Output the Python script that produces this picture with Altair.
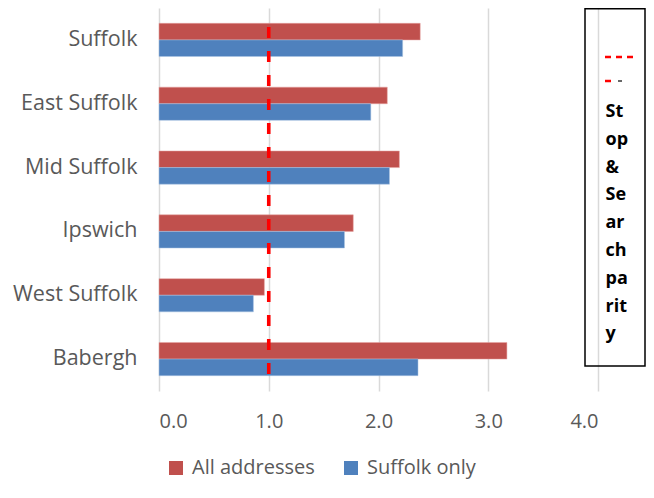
import altair as alt
import pandas as pd

categories = ["Suffolk", "East Suffolk", "Mid Suffolk", "Ipswich", "West Suffolk", "Babergh"]
all_addresses = [2.38, 2.08, 2.19, 1.77, 0.96, 3.17]
suffolk_only = [2.22, 1.93, 2.10, 1.69, 0.86, 2.36]
series_names = ["All addresses", "Suffolk only"]
series_colors = ["#C0504D", "#4F81BD"]
parity_value = [1.0]
x_ticks = [0, 1, 2, 3, 4]
box_lines = ["St", "op", "&", "Se", "ar", "ch", "pa", "rit", "y"]

rows = []
for c, a, s in zip(categories, all_addresses, suffolk_only):
    rows.append({"area": c, "series": series_names[0], "value": a})
    rows.append({"area": c, "series": series_names[1], "value": s})
df = pd.DataFrame(rows)

FONT = "Open Sans"
GREY = "#595959"

x_scale = alt.Scale(domain=[0, 4], nice=False)

bars = alt.Chart(df).mark_bar(strokeWidth=1, strokeOpacity=0.5).encode(
    x=alt.X("value:Q", scale=x_scale,
            axis=alt.Axis(values=x_ticks, format=".1f", title=None, grid=True,
                          gridColor="#d9d9d9", gridWidth=1.5, domain=False, ticks=False,
                          labelFont=FONT, labelFontSize=20, labelColor=GREY,
                          labelPadding=20)),
    y=alt.Y("area:N", sort=categories,
            scale=alt.Scale(paddingInner=0.48, paddingOuter=0.24),
            axis=alt.Axis(title=None, domain=False, ticks=False, grid=False,
                          labelFont=FONT, labelFontSize=21.5, labelColor=GREY,
                          labelPadding=22)),
    yOffset=alt.YOffset("series:N", sort=series_names),
    color=alt.Color("series:N", sort=series_names,
                    scale=alt.Scale(domain=series_names, range=series_colors),
                    legend=alt.Legend(title=None, orient="none", direction="horizontal",
                                      legendX=7, legendY=450, padding=0,
                                      symbolType="square", symbolSize=196,
                                      symbolStrokeWidth=0, labelOffset=6,
                                      columnPadding=26, labelFont=FONT,
                                      labelFontSize=20, labelColor=GREY)),
    stroke=alt.Stroke("series:N", sort=series_names,
                      scale=alt.Scale(domain=series_names, range=["#e8a3a1", "#a9c3e3"]),
                      legend=None),
)

parity = alt.Chart(pd.DataFrame({"p": parity_value})).mark_rule(
    color="#FF0000", strokeWidth=3.6, strokeDash=[11, 13]
).encode(
    x=alt.X("p:Q", scale=x_scale),
    y=alt.value(19),
    y2=alt.value(367),
)

box = alt.Chart(pd.DataFrame({"p": parity_value})).mark_rect(
    fill="transparent", stroke="black", strokeWidth=1.5
).encode(
    x=alt.value(426), x2=alt.value(486), y=alt.value(0.75), y2=alt.value(358)
)

dash1 = alt.Chart(pd.DataFrame({"p": parity_value})).mark_rule(
    color="#FF0000", strokeWidth=2.5, strokeDash=[6, 5]
).encode(x=alt.value(446), x2=alt.value(474), y=alt.value(49))

dash2 = alt.Chart(pd.DataFrame({"p": parity_value})).mark_rule(
    color="#FF0000", strokeWidth=2.5, strokeDash=[6, 5]
).encode(x=alt.value(446), x2=alt.value(455), y=alt.value(73))

dash3 = alt.Chart(pd.DataFrame({"p": parity_value})).mark_rule(
    color="black", strokeWidth=1.2
).encode(x=alt.value(459), x2=alt.value(463), y=alt.value(73))

box_text = alt.Chart(pd.DataFrame({"p": parity_value})).mark_text(
    text=box_lines, align="left", baseline="alphabetic", font=FONT,
    fontSize=18, fontWeight="bold", color="black", lineHeight=27.8
).encode(x=alt.value(446.5), y=alt.value(109))

chart = alt.layer(bars, parity, box, dash1, dash2, dash3, box_text).properties(
    width=439, height=383,
    autosize=alt.AutoSizeParams(type="none"),
    padding={"left": 151, "top": 0, "right": 48, "bottom": 90},
).configure_view(stroke=None).resolve_scale(stroke="independent")

chart.save("out.html", embed_options={"renderer": "svg", "actions": False})
